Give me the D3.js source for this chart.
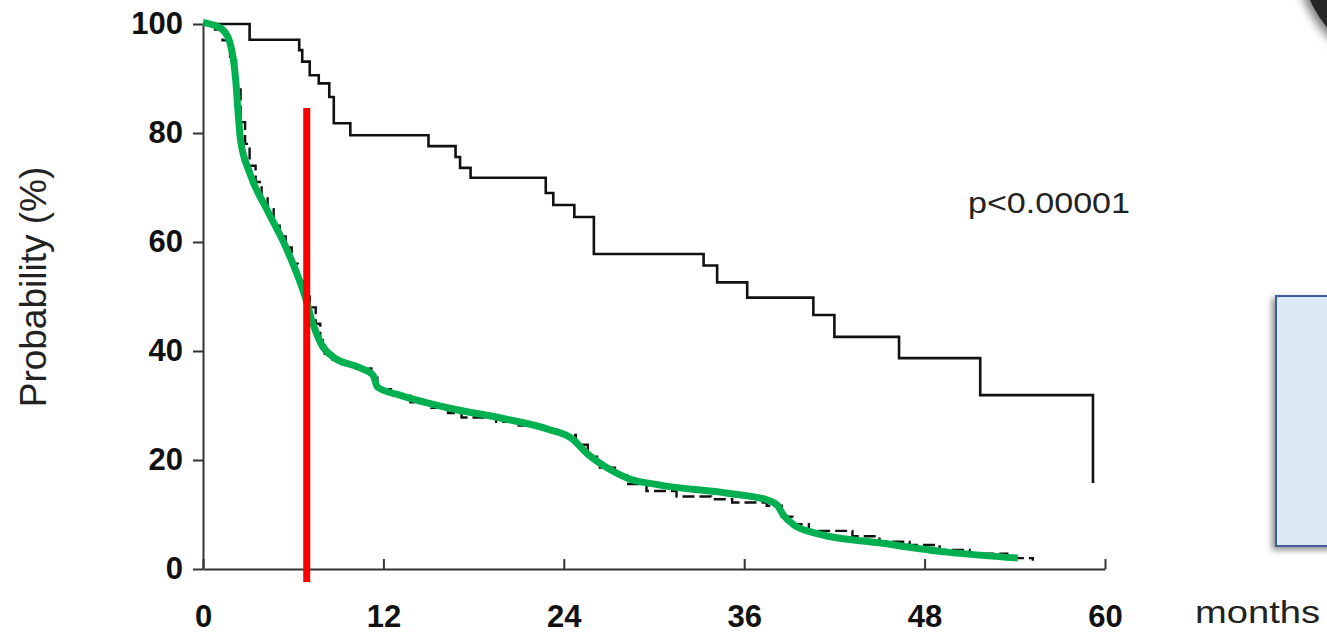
<!DOCTYPE html>
<html>
<head>
<meta charset="utf-8">
<script src="https://cdn.jsdelivr.net/npm/d3@7"></script>
<style>
  html, body { margin: 0; padding: 0; background: #fff; }
  svg { display: block; }
</style>
</head>
<body>
<script>
// tick values
const xTicks = [0, 12, 24, 36, 48, 60];
const yTicks = [0, 20, 40, 60, 80, 100];

// upper Kaplan-Meier curve (months, %)
const upperMonths = [0, 3.1, 6.4, 6.6, 7.1, 7.7, 8.4, 8.7, 9.8, 15.0, 16.8, 17.1, 17.8, 22.8, 23.3, 24.7, 26.0, 33.3, 34.2, 36.2, 40.6, 42.0, 46.3, 51.7, 59.2];
const upperSurv   = [100, 97.1, 95.2, 93.1, 90.6, 89.1, 86.6, 81.8, 79.6, 77.6, 75.6, 73.6, 71.8, 69.0, 66.8, 64.6, 57.8, 55.7, 52.6, 49.8, 46.6, 42.6, 38.7, 31.9, 15.8];

// lower Kaplan-Meier curve (mostly under the green line)
const lowerMonths = [0, 0.8, 1.3, 1.8, 2.2, 2.5, 2.8, 3.1, 3.5, 3.9, 4.3, 4.7, 5.1, 5.5, 5.9, 6.3, 6.7, 7.1, 7.5, 7.8, 8.1, 8.6, 9.3, 10.2, 11.2, 11.6, 12.5, 13.8, 15.2, 16.3, 17.2, 19.5, 21, 22.5, 23.8, 24.8, 25.6, 26.4, 27.4, 28.2, 29.5, 31.5, 33.8, 35.2, 37.5, 38.5, 39.2, 40.3, 43.2, 45, 47, 49, 51, 53.5, 55.2];
const lowerSurv   = [100, 99, 97, 94, 88, 82, 78, 74, 71, 68, 66, 63, 61, 59, 56, 53, 50, 48, 45, 42, 39.5, 38.5, 37.5, 36.8, 35.8, 33, 31.8, 30.6, 29.6, 28.6, 27.8, 27, 26.3, 25.6, 24.6, 22.8, 20.6, 18.6, 17.2, 15.6, 14.3, 13.3, 12.8, 12.2, 11.6, 9.6, 8.2, 7.0, 6.0, 5.0, 4.4, 3.5, 2.8, 2.0, 1.5];

// smoothed green overlay
const greenMonths = [0, 0.7, 1.33, 1.8, 2.0, 2.2, 2.3, 2.5, 3.1, 4.26, 5.6, 6.8, 7.3, 7.9, 8.65, 10.45, 11.3, 11.6, 13.1, 16.4, 19.8, 23.0, 24.6, 25.5, 27.1, 28.2, 30.4, 34.9, 37.5, 38.2, 38.6, 39.3, 41.0, 45.0, 49.5, 54.2];
const greenSurv   = [100.3, 99.8, 98.9, 96.5, 93.9, 89, 85, 78.7, 72.7, 65.9, 58.5, 49.9, 45.1, 41.1, 38.9, 36.9, 35.6, 33.4, 31.9, 29.5, 27.7, 25.6, 23.8, 21.3, 18.2, 16.7, 15.4, 13.9, 12.7, 11.7, 9.9, 8.1, 6.4, 4.8, 3.1, 2.0];

// red marker (months, from %, to %)
const redMonth = 6.9;
const redRange = [-2.4, 84.6];

const W = 1327, H = 634;
const svg = d3.select("body").append("svg")
  .attr("width", W).attr("height", H)
  .attr("xmlns", "http://www.w3.org/2000/svg");

const defs = svg.append("defs");
defs.append("filter").attr("id", "boxShadow")
  .attr("x", "-20%").attr("y", "-20%").attr("width", "140%").attr("height", "140%")
  .append("feDropShadow").attr("dx", -3).attr("dy", 3).attr("stdDeviation", 3)
  .attr("flood-color", "#000").attr("flood-opacity", 0.45);
defs.append("filter").attr("id", "blobShadow")
  .attr("x", "-50%").attr("y", "-50%").attr("width", "200%").attr("height", "200%")
  .append("feDropShadow").attr("dx", -4).attr("dy", 4).attr("stdDeviation", 5)
  .attr("flood-color", "#000").attr("flood-opacity", 0.5);

const font = "'Liberation Sans', Arial, sans-serif";

const x = d3.scaleLinear().domain([0, 60]).range([203, 1105]);
const y = d3.scaleLinear().domain([0, 100]).range([569, 24]);

// y axis
const yAxis = svg.append("g")
  .attr("transform", `translate(${x(0)},0)`)
  .call(d3.axisLeft(y).tickValues(yTicks).tickSize(10).tickPadding(10).tickSizeOuter(0));
yAxis.select(".domain").attr("stroke", "#333").attr("stroke-width", 2);
yAxis.selectAll(".tick line").attr("stroke", "#333").attr("stroke-width", 2);
yAxis.selectAll("text")
  .attr("font-family", font).attr("font-size", 31).attr("font-weight", "bold").attr("fill", "#111");

// x axis (ticks point up)
const xAxis = svg.append("g")
  .attr("transform", `translate(0,${y(0)})`)
  .call(d3.axisBottom(x).tickValues(xTicks).tickSizeInner(-10).tickSizeOuter(0).tickPadding(36));
xAxis.select(".domain").attr("stroke", "#333").attr("stroke-width", 2);
xAxis.selectAll(".tick line").attr("stroke", "#333").attr("stroke-width", 2);
xAxis.selectAll("text")
  .attr("font-family", font).attr("font-size", 31).attr("font-weight", "bold").attr("fill", "#111");

// curves
const step = d3.line().x(d => x(d[0])).y(d => y(d[1])).curve(d3.curveStepAfter);
const smooth = d3.line().x(d => x(d[0])).y(d => y(d[1])).curve(d3.curveMonotoneX);

svg.append("path")
  .datum(upperMonths.map((m, i) => [m, upperSurv[i]]))
  .attr("d", step).attr("fill", "none").attr("stroke", "#111").attr("stroke-width", 2.6);

svg.append("path")
  .datum(lowerMonths.map((m, i) => [m, lowerSurv[i]]))
  .attr("d", step).attr("fill", "none").attr("stroke", "#111").attr("stroke-width", 2.4)
  .attr("stroke-dasharray", "12,5");

svg.append("path")
  .datum(greenMonths.map((m, i) => [m, greenSurv[i]]))
  .attr("d", smooth).attr("fill", "none").attr("stroke", "#00b050")
  .attr("stroke-width", 7).attr("stroke-linecap", "butt").attr("stroke-linejoin", "round");

svg.append("line")
  .attr("x1", x(redMonth)).attr("x2", x(redMonth))
  .attr("y1", y(redRange[1])).attr("y2", y(redRange[0]))
  .attr("stroke", "#ff0000").attr("stroke-width", 7);

// texts
svg.append("text")
  .attr("transform", "translate(46,287) rotate(-90)")
  .attr("text-anchor", "middle")
  .attr("font-family", font).attr("font-size", 37).attr("fill", "#222")
  .text("Probability (%)");

svg.append("text")
  .attr("x", 968).attr("y", 213)
  .attr("font-family", font).attr("font-size", 30).attr("fill", "#222")
  .attr("textLength", 162).attr("lengthAdjust", "spacingAndGlyphs")
  .text("p<0.00001");

svg.append("text")
  .attr("x", 1195).attr("y", 623)
  .attr("font-family", font).attr("font-size", 31).attr("fill", "#222")
  .attr("textLength", 125).attr("lengthAdjust", "spacingAndGlyphs")
  .text("months");

// blue box on the right
svg.append("rect")
  .attr("x", 1276).attr("y", 296).attr("width", 120).attr("height", 250)
  .attr("fill", "#dde8f5").attr("stroke", "#3c5d9c").attr("stroke-width", 2)
  .attr("filter", "url(#boxShadow)");

// dark round shape in the corner
svg.append("circle")
  .attr("cx", 1420).attr("cy", -50).attr("r", 121)
  .attr("fill", "#262626").attr("filter", "url(#blobShadow)");
</script>
</body>
</html>
